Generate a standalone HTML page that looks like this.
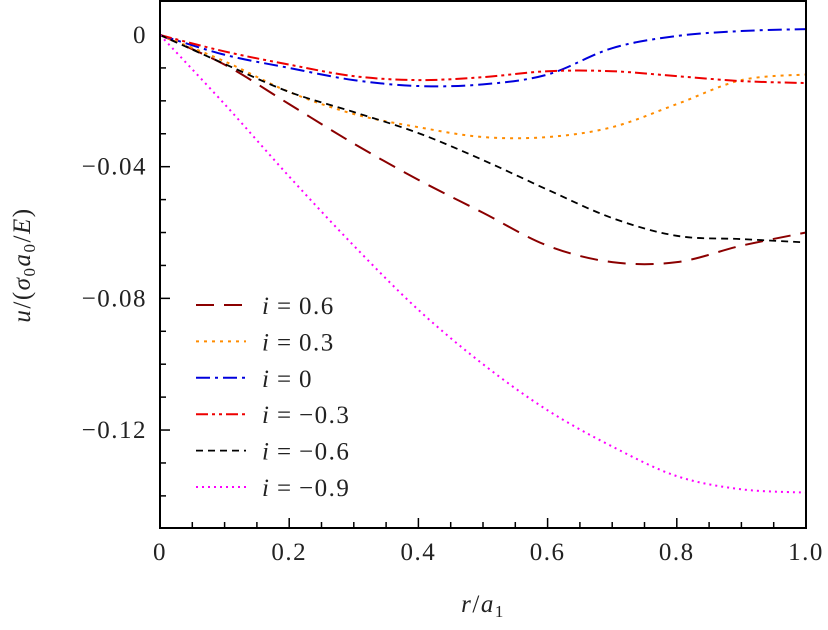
<!DOCTYPE html>
<html><head><meta charset="utf-8"><style>
body{margin:0;background:#fff}
svg text{font-family:"Liberation Serif","DejaVu Serif",serif;font-size:25px;fill:#222;letter-spacing:1.5px}
</style></head><body>
<svg id="chart" width="828" height="625" xmlns="http://www.w3.org/2000/svg">
<g id="series"></g>
<g id="axes"></g>
<text x="483" y="612" text-anchor="middle"><tspan font-style="italic">r</tspan>/<tspan font-style="italic">a</tspan><tspan font-size="17" dy="5">1</tspan></text>
<text transform="translate(30,265) rotate(-90)" text-anchor="middle"><tspan font-style="italic">u</tspan>/(<tspan font-style="italic">σ</tspan><tspan font-size="17" dy="5">0</tspan><tspan dy="-5" font-style="italic">a</tspan><tspan font-size="17" dy="5">0</tspan><tspan dy="-5">/</tspan><tspan font-style="italic">E</tspan>)</text>
<g id="legend"></g>
</svg>
<script>
const rs=[0,0.1,0.2,0.3,0.4,0.5,0.6,0.7,0.8,0.9,1.0];
const s06=[0,-0.009,-0.021,-0.033,-0.044,-0.054,-0.064,-0.069,-0.069,-0.064,-0.060];
const s03=[0,-0.008,-0.0173,-0.024,-0.028,-0.031,-0.031,-0.028,-0.021,-0.0137,-0.012];
const s0=[0,-0.006,-0.010,-0.0137,-0.0155,-0.015,-0.012,-0.004,-0.0003,0.0012,0.0018];
const sm03=[0,-0.005,-0.009,-0.0125,-0.0137,-0.0128,-0.011,-0.011,-0.0125,-0.014,-0.0146];
const sm06=[0,-0.0088,-0.0173,-0.0234,-0.0298,-0.038,-0.047,-0.0556,-0.061,-0.062,-0.063];
const sm09=[0,-0.021,-0.043,-0.064,-0.0835,-0.100,-0.114,-0.125,-0.134,-0.138,-0.139];
const labels=["i = 0.6","i = 0.3","i = 0","i = −0.3","i = −0.6","i = −0.9"];
const xTicks=[0,0.2,0.4,0.6,0.8,1.0];
const xTickLabels=["0","0.2","0.4","0.6","0.8","1.0"];
const yTicks=[0,-0.04,-0.08,-0.12];
const yTickLabels=["0","−0.04","−0.08","−0.12"];
const NS="http://www.w3.org/2000/svg";
const X=r=>160+646*r, Y=u=>35-3292*u;
const styles=[
 {c:"#8b0000",d:"18,10",w:2},{c:"#ff8c00",d:"3,5",w:2},{c:"#0000dd",d:"14,5,3,5",w:2},
 {c:"#ee0000",d:"12,4,3,4,3,4",w:2},{c:"#000",d:"7,5",w:1.8},{c:"#ff00ff",d:"2,4",w:2}];
const all=[s06,s03,s0,sm03,sm06,sm09];
const names=["series-i-0.6","series-i-0.3","series-i-0","series-i-neg0.3","series-i-neg0.6","series-i-neg0.9"];
function pathFor(v){const p=rs.map((r,i)=>[X(r),Y(v[i])]);let d=`M${p[0][0]},${p[0][1]}`;
 for(let i=0;i<p.length-1;i++){const p0=p[Math.max(0,i-1)],p1=p[i],p2=p[i+1],p3=p[Math.min(p.length-1,i+2)];
 d+=` C${p1[0]+(p2[0]-p0[0])/6},${p1[1]+(p2[1]-p0[1])/6} ${p2[0]-(p3[0]-p1[0])/6},${p2[1]-(p3[1]-p1[1])/6} ${p2[0]},${p2[1]}`;}return d;}
const sg=document.getElementById('series');
all.forEach((v,k)=>{const e=document.createElementNS(NS,'path');e.setAttribute('d',pathFor(v));
 e.setAttribute('fill','none');e.setAttribute('stroke',styles[k].c);e.setAttribute('stroke-width',styles[k].w);e.setAttribute('stroke-dasharray',styles[k].d);
 
 
 sg.appendChild(e);});
const ax=document.getElementById('axes');
function add(parent,tag,attrs,txt){const e=document.createElementNS(NS,tag);for(const a in attrs)e.setAttribute(a,attrs[a]);if(txt!=null)e.textContent=txt;parent.appendChild(e);return e;}
const fr=add(ax,'rect',{x:160,y:1,width:646,height:527,fill:'none',stroke:'#000','stroke-width':2});


for(let i=1;i<20;i++){const t=add(ax,'line',{x1:X(i*0.05),x2:X(i*0.05),y1:528,y2:(i%4==0)?518:522,stroke:'#000','stroke-width':1.5});
 
 }
for(let i=1;i<=15;i++){const yy=Y(-i*0.01);if(yy>527)break;const t=add(ax,'line',{x1:160,x2:(i%4==0)?170:166,y1:yy,y2:yy,stroke:'#000','stroke-width':1.5});
 
 }
xTicks.forEach((v,i)=>{const t=add(ax,'text',{x:X(v),y:560,'text-anchor':'middle'},xTickLabels[i]);
 
 });
yTicks.forEach((v,i)=>{const t=add(ax,'text',{x:147,y:Y(v)+8,'text-anchor':'end'},yTickLabels[i]);
 
 });
const lg=document.getElementById('legend');
labels.forEach((l,k)=>{const y=305+k*36.4;
 const ln=add(lg,'line',{x1:196,x2:246,y1:y,y2:y,stroke:styles[k].c,'stroke-width':styles[k].w,'stroke-dasharray':styles[k].d});
 
 
 const parts=l.split(' = ');
 const t=add(lg,'text',{x:262,y:y+9});
 
 
 add(t,'tspan',{'font-style':'italic'},parts[0]);add(t,'tspan',{},'\u2009=\u2009'+parts[1]);});
</script>
</body></html>
